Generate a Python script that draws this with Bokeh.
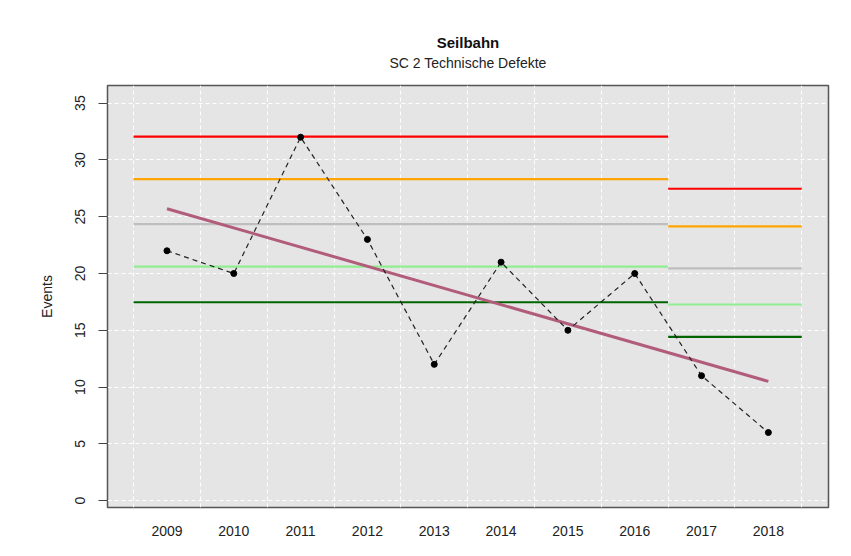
from bokeh.plotting import figure
from bokeh.models import FixedTicker, Range1d, Title
from bokeh.embed import file_html
from bokeh.resources import INLINE

years = [2009, 2010, 2011, 2012, 2013, 2014, 2015, 2016, 2017, 2018]
events = [22, 20, 32, 23, 12, 21, 15, 20, 11, 6]

trend_years = [2009, 2018]
trend_values = [25.7, 10.5]

# limit segments: period 1 (2009-2016), period 2 (2017-2018)
seg1_x = [2008.5, 2016.5]
seg2_x = [2016.5, 2018.5]
limit_colors = ["#FF0000", "#FFA500", "#BEBEBE", "#90EE90", "#006400"]
limits_p1 = [32.05, 28.3, 24.35, 20.6, 17.47]
limits_p2 = [27.46, 24.14, 20.45, 17.27, 14.42]

y_ticks = [0, 5, 10, 15, 20, 25, 30, 35]
x_grid = [2008.5, 2009.5, 2010.5, 2011.5, 2012.5, 2013.5, 2014.5, 2015.5, 2016.5, 2017.5, 2018.5]

FONT = "Liberation Sans"

p = figure(width=843, height=548, output_backend="svg", toolbar_location=None,
           x_range=Range1d(2008.11, 2018.9), y_range=Range1d(-0.6, 36.55),
           min_border_left=107, min_border_right=15, min_border_top=85, min_border_bottom=41,
           background_fill_color="#E5E5E5", border_fill_color="white")

p.outline_line_color = "#555555"
p.outline_line_width = 1.5

# grids
p.xgrid.ticker = FixedTicker(ticks=x_grid)
p.ygrid.ticker = FixedTicker(ticks=y_ticks)
for g in (p.xgrid, p.ygrid):
    g.grid_line_color = "white"
    g.grid_line_dash = "4 3"
    g.grid_line_width = 1

# axes
p.xaxis.ticker = FixedTicker(ticks=years)
p.xaxis.axis_line_color = None
p.xaxis.major_tick_line_color = None
p.xaxis.minor_tick_line_color = None
p.xaxis.major_tick_out = 0
p.xaxis.major_tick_in = 0
p.xaxis.major_label_standoff = 18
p.xaxis.major_label_text_font = FONT
p.xaxis.major_label_text_font_size = "14px"
p.xaxis.major_label_text_color = "#222222"

p.yaxis.ticker = FixedTicker(ticks=y_ticks)
p.yaxis.axis_line_color = None
p.yaxis.minor_tick_line_color = None
p.yaxis.major_tick_line_color = "#444444"
p.yaxis.major_tick_out = 9
p.yaxis.major_tick_in = 0
p.yaxis.major_label_orientation = "vertical"
p.yaxis.major_label_standoff = 13
p.yaxis.major_label_text_font = FONT
p.yaxis.major_label_text_font_size = "14px"
p.yaxis.major_label_text_color = "#222222"
p.yaxis.axis_label = "Events"
p.yaxis.axis_label_text_font = FONT
p.yaxis.axis_label_text_font_size = "14px"
p.yaxis.axis_label_text_font_style = "normal"
p.yaxis.axis_label_text_color = "#222222"
p.yaxis.axis_label_standoff = 18

# titles
p.add_layout(Title(text="SC 2 Technische Defekte", align="center", text_font=FONT,
                   text_font_size="14px", text_font_style="normal", text_color="#222222",
                   standoff=30), "above")
p.add_layout(Title(text="Seilbahn", align="center", text_font=FONT,
                   text_font_size="15px", text_font_style="bold", text_color="#111111",
                   standoff=-26), "above")

# limit lines
for c, v1, v2 in zip(limit_colors, limits_p1, limits_p2):
    p.line(seg1_x, [v1, v1], line_color=c, line_width=2.2)
    p.line(seg2_x, [v2, v2], line_color=c, line_width=2.2)

# trend
p.line(trend_years, trend_values, line_color="#B25C7C", line_width=3)

# data
p.line(years, events, line_color="#222222", line_dash="5 4", line_width=1.2)
p.scatter(years, events, size=6, color="black")

with open("out.html", "w") as f:
    f.write(file_html(p, INLINE))
